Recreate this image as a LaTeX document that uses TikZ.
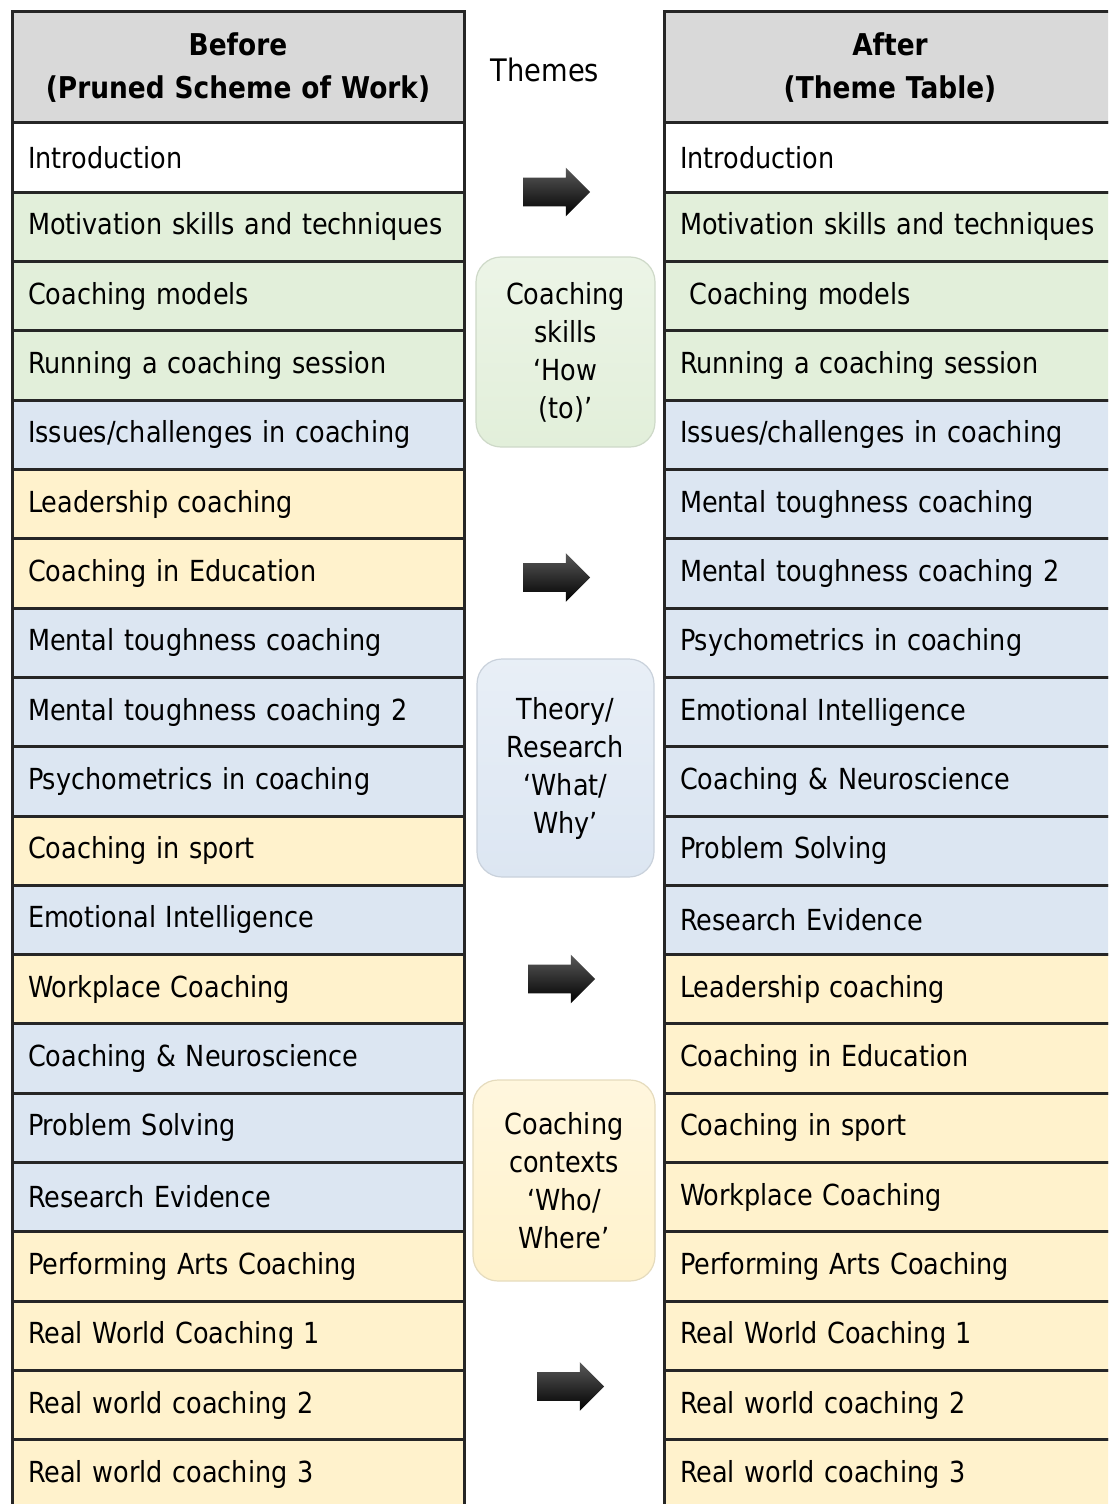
\documentclass[tikz,border=0pt]{standalone}
\usepackage{fontspec}
\setmainfont{DejaVu Sans}[FakeStretch=0.88]
\usetikzlibrary{positioning,shapes.arrows}

\definecolor{hdrgray}{HTML}{D9D9D9}
\definecolor{skillgreen}{HTML}{E2EFDA}
\definecolor{theoryblue}{HTML}{DCE6F2}
\definecolor{contextyellow}{HTML}{FFF2CC}
\definecolor{gridline}{HTML}{262626}

\tikzset{
  cell/.style={draw=gridline, line width=1.5pt, outer sep=0pt,
    minimum width=226pt, minimum height=34.65pt, text width=210pt,
    inner xsep=8pt, inner ysep=0pt, align=left,
    font=\fontsize{14.5}{17}\selectfont},
  hdr/.style={cell, fill=hdrgray, minimum height=55.5pt, align=center,
    font=\bfseries\fontsize{15}{21.5}\selectfont},
  themebox/.style={rounded corners=12.5pt, text width=80pt, inner sep=0pt,
    align=center, font=\fontsize{14.5}{19}\selectfont,
    draw=#1!80!gray, line width=0.6pt, top color=#1!65, bottom color=#1},
  shiftarrow/.style={single arrow, minimum height=33.5pt,
    single arrow head extend=5pt, inner xsep=0pt, inner ysep=7pt,
    top color=black!65, bottom color=black}
}

\begin{document}
\begin{tikzpicture}[x=0.5pt,y=-0.5pt]
  \useasboundingbox (0,0) rectangle (1108,1504);
  \clip (0,0) rectangle (1108,1504);

  % headers
  \node[hdr, alias=lrow0] (before) at (238,67.5) {Before\\(Pruned Scheme of Work)};
  \node[hdr, alias=rrow0] (after)  at (890,67.5) {After\\(Theme Table)};
  \node[font=\fontsize{15.5}{19}\selectfont] (themes) at (545,70) {Themes};

  % before: pruned scheme of work
  \foreach \txt/\col [count=\i, evaluate=\i as \prev using int(\i-1)] in {
      Introduction/white,
      Motivation skills and techniques/skillgreen,
      Coaching models/skillgreen,
      Running a coaching session/skillgreen,
      {Issues/challenges in coaching}/theoryblue,
      Leadership coaching/contextyellow,
      Coaching in Education/contextyellow,
      Mental toughness coaching/theoryblue,
      Mental toughness coaching 2/theoryblue,
      Psychometrics in coaching/theoryblue,
      Coaching in sport/contextyellow,
      Emotional Intelligence/theoryblue,
      Workplace Coaching/contextyellow,
      Coaching \& Neuroscience/theoryblue,
      Problem Solving/theoryblue,
      Research Evidence/theoryblue,
      Performing Arts Coaching/contextyellow,
      Real World Coaching 1/contextyellow,
      Real world coaching 2/contextyellow,
      Real world coaching 3/contextyellow}
    \node[cell, fill=\col, below=0pt of lrow\prev] (lrow\i) {\txt};

  % after: theme table
  \foreach \txt/\col [count=\i, evaluate=\i as \prev using int(\i-1)] in {
      Introduction/white,
      Motivation skills and techniques/skillgreen,
      \ Coaching models/skillgreen,
      Running a coaching session/skillgreen,
      {Issues/challenges in coaching}/theoryblue,
      Mental toughness coaching/theoryblue,
      Mental toughness coaching 2/theoryblue,
      Psychometrics in coaching/theoryblue,
      Emotional Intelligence/theoryblue,
      Coaching \& Neuroscience/theoryblue,
      Problem Solving/theoryblue,
      Research Evidence/theoryblue,
      Leadership coaching/contextyellow,
      Coaching in Education/contextyellow,
      Coaching in sport/contextyellow,
      Workplace Coaching/contextyellow,
      Performing Arts Coaching/contextyellow,
      Real World Coaching 1/contextyellow,
      Real world coaching 2/contextyellow,
      Real world coaching 3/contextyellow}
    \node[cell, fill=\col, below=0pt of rrow\prev] (rrow\i) {\txt};

  % themes
  \node[themebox=skillgreen, minimum width=89.5pt, minimum height=95pt]
        (skills) at (565.5,352) {Coaching\\skills\\‘How\\(to)’};
  \node[themebox=theoryblue, minimum width=88.5pt, minimum height=109pt]
        (theory) at (565.5,768) {Theory/\\Research\\‘What/\\Why’};
  \node[themebox=contextyellow, minimum width=91pt, minimum height=100.5pt]
        (contexts) at (564,1180.5) {Coaching\\contexts\\‘Who/\\Where’};

  % arrows
  \node[shiftarrow] (arr1) at (549.5,192) {};
  \node[shiftarrow] (arr2) at (549.5,577.5) {};
  \node[shiftarrow] (arr3) at (554.5,979) {};
  \node[shiftarrow] (arr4) at (563.5,1386.5) {};
\end{tikzpicture}
\end{document}
